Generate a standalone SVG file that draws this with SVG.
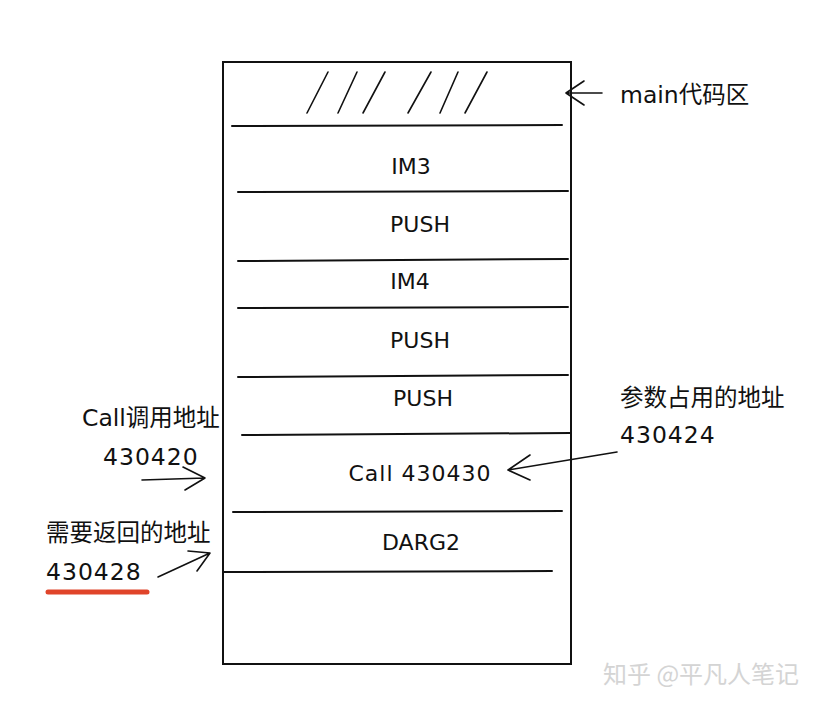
<svg xmlns="http://www.w3.org/2000/svg" width="824" height="706" viewBox="0 0 824 706">
<style>
.ln{stroke:#111;stroke-width:2;fill:none;stroke-linecap:round}
.ar{stroke:#111;stroke-width:1.6;fill:none;stroke-linecap:round;stroke-linejoin:round}
.bx{font-family:"DejaVu Sans","Noto Sans CJK SC",sans-serif;font-size:22px;fill:#111;text-anchor:middle}
.lb{font-family:"DejaVu Sans","Noto Sans CJK SC",sans-serif;font-size:23.5px;fill:#111}
.num{letter-spacing:1px}
.wm{font-family:"Noto Sans CJK SC",sans-serif;font-size:24px;fill:#d4d4d4}
</style>
<rect width="824" height="706" fill="#fff"/>
<g id="stack">
<rect x="223" y="62" width="348" height="602" fill="none" stroke="#111" stroke-width="2"/>
</g>
<g id="main-code">
<g class="ar">
<line x1="328" y1="72" x2="307" y2="113"/>
<line x1="357" y1="72" x2="338" y2="113"/>
<line x1="385" y1="72" x2="363" y2="113"/>
<line x1="431" y1="72" x2="408" y2="113"/>
<line x1="458" y1="72" x2="440" y2="113"/>
<line x1="487" y1="72" x2="465" y2="113"/>
</g>
<line class="ln" x1="232" y1="126" x2="562" y2="125"/>
</g>
<g id="slot-im3">
<text class="bx" x="411" y="174">IM3</text>
<line class="ln" x1="238" y1="192" x2="568" y2="191"/>
</g>
<g id="slot-push1">
<text class="bx" x="420" y="232">PUSH</text>
<line class="ln" x1="238" y1="261" x2="568" y2="259"/>
</g>
<g id="slot-im4">
<text class="bx" x="410" y="289">IM4</text>
<line class="ln" x1="238" y1="308" x2="568" y2="307"/>
</g>
<g id="slot-push2">
<text class="bx" x="420" y="348">PUSH</text>
<line class="ln" x1="238" y1="377" x2="568" y2="375"/>
</g>
<g id="slot-push3">
<text class="bx" x="423" y="406">PUSH</text>
<line class="ln" x1="242" y1="435" x2="570" y2="433"/>
</g>
<g id="slot-call">
<text class="bx" x="420" y="481" letter-spacing="1">Call 430430</text>
<line class="ln" x1="233" y1="512" x2="562" y2="511"/>
</g>
<g id="slot-darg2">
<text class="bx" x="421" y="550">DARG2</text>
<line class="ln" x1="224" y1="572" x2="552" y2="571"/>
</g>
<g id="label-main">
<text class="lb" x="620" y="103">main代码区</text>
</g>
<g id="label-call">
<text class="lb" x="82" y="426">Call调用地址</text>
<text class="lb num" x="103" y="465">430420</text>
</g>
<g id="label-return">
<text class="lb" x="46" y="541">需要返回的地址</text>
<text class="lb num" x="46" y="580">430428</text>
<line x1="48" y1="592" x2="147" y2="592" stroke="#e0442a" stroke-width="5" stroke-linecap="round"/>
</g>
<g id="label-param">
<text class="lb" x="620" y="406">参数占用的地址</text>
<text class="lb num" x="620" y="443">430424</text>
</g>
<g id="connectors" class="ar">
<path d="M602,93 L566,93 M584,81 L566,93 L584,105"/>
<path d="M142,480 L205,478 M183,467 L205,478 L185,490"/>
<path d="M158,577 L210,553 M188,551 L210,553 L197,571"/>
<path d="M617,452 L508,470 M530,455 L508,470 L530,480"/>
</g>
<text class="wm" x="603" y="683">知乎 @平凡人笔记</text>
</svg>
